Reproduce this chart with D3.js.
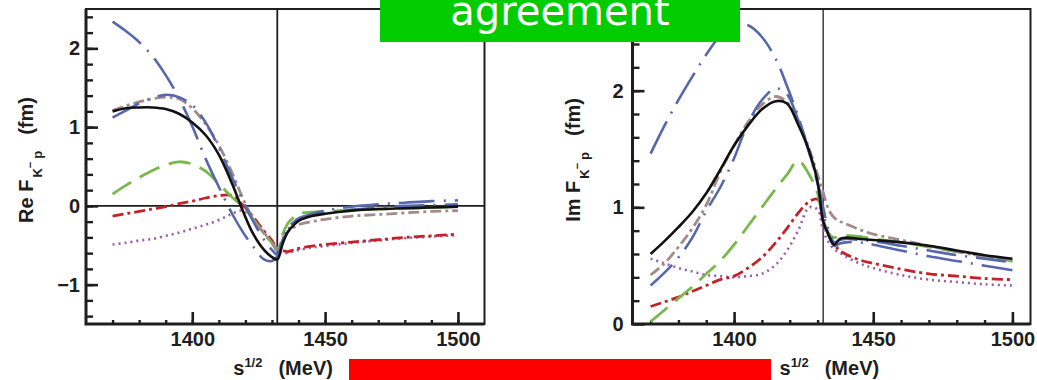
<!DOCTYPE html>
<html>
<head>
<meta charset="utf-8">
<script src="https://cdn.jsdelivr.net/npm/d3@7"></script>
<style>
  body { margin: 0; background: #fff; }
  svg { display: block; }
</style>
</head>
<body>
<svg id="chart" width="1037" height="380"></svg>
<script>
// sqrt(s) grid in MeV, shared by every curve of both panels
const energies = [1370, 1375, 1380, 1385, 1390, 1395, 1400, 1405, 1410, 1415, 1419, 1423, 1427,
  1430, 1432, 1434, 1436, 1438, 1440, 1445, 1450, 1460, 1470, 1480, 1490, 1500];
const threshold = 1432; // K- p threshold (vertical line)

// Re F_K-p (fm)
const reBlack = [1.20, 1.24, 1.25, 1.25, 1.23, 1.17, 1.06, 0.90, 0.65, 0.28, -0.06, -0.36, -0.56,
  -0.65, -0.68, -0.48, -0.33, -0.25, -0.19, -0.13, -0.10, -0.06, -0.04, -0.03, -0.02, -0.01];
const reBrown = [1.21, 1.27, 1.32, 1.36, 1.38, 1.36, 1.24, 1.04, 0.77, 0.42, 0.10, -0.17, -0.35,
  -0.47, -0.56, -0.42, -0.33, -0.28, -0.24, -0.20, -0.17, -0.13, -0.11, -0.09, -0.07, -0.06];
const reBlue1 = [2.34, 2.22, 2.08, 1.90, 1.66, 1.37, 1.01, 0.60, 0.24, -0.10, -0.33, -0.52, -0.68,
  -0.70, -0.64, -0.42, -0.28, -0.21, -0.16, -0.10, -0.06, -0.01, 0.02, 0.04, 0.06, 0.07];
const reBlue2 = [1.12, 1.21, 1.30, 1.37, 1.41, 1.38, 1.28, 1.06, 0.74, 0.36, 0.07, -0.20, -0.43,
  -0.56, -0.62, -0.43, -0.30, -0.23, -0.18, -0.12, -0.09, -0.05, -0.02, 0.00, 0.01, 0.02];
const reGreen = [0.15, 0.26, 0.36, 0.45, 0.52, 0.56, 0.53, 0.44, 0.28, 0.11, -0.01, -0.17, -0.35,
  -0.47, -0.55, -0.36, -0.22, -0.15, -0.10, -0.08, -0.07, -0.05, -0.04, -0.03, -0.02, -0.01];
const reRed = [-0.13, -0.10, -0.07, -0.04, -0.01, 0.03, 0.06, 0.10, 0.13, 0.13, 0.01, -0.14, -0.32,
  -0.44, -0.55, -0.57, -0.58, -0.56, -0.54, -0.51, -0.49, -0.46, -0.43, -0.40, -0.38, -0.36];
const rePurple = [-0.49, -0.47, -0.44, -0.42, -0.38, -0.34, -0.29, -0.24, -0.18, -0.10, -0.06, -0.16, -0.34,
  -0.46, -0.58, -0.60, -0.60, -0.58, -0.56, -0.53, -0.51, -0.47, -0.44, -0.41, -0.39, -0.37];

// Im F_K-p (fm)
const imBlack = [0.60, 0.71, 0.83, 0.96, 1.12, 1.32, 1.53, 1.70, 1.84, 1.91, 1.89, 1.71, 1.48,
  1.22, 0.88, 0.76, 0.68, 0.73, 0.74, 0.73, 0.72, 0.70, 0.67, 0.63, 0.59, 0.56];
const imBrown = [0.42, 0.52, 0.66, 0.82, 1.02, 1.30, 1.53, 1.73, 1.88, 1.95, 1.90, 1.74, 1.50,
  1.28, 1.13, 0.98, 0.91, 0.88, 0.86, 0.81, 0.77, 0.72, 0.67, 0.62, 0.58, 0.54];
const imBlue1 = [1.46, 1.70, 1.92, 2.12, 2.31, 2.47, 2.56, 2.56, 2.46, 2.27, 2.04, 1.78, 1.47,
  1.20, 0.97, 0.76, 0.67, 0.69, 0.70, 0.70, 0.68, 0.63, 0.58, 0.54, 0.50, 0.46];
const imBlue2 = [0.33, 0.44, 0.57, 0.74, 0.97, 1.17, 1.42, 1.72, 1.92, 2.02, 1.97, 1.75, 1.47,
  1.22, 1.00, 0.80, 0.70, 0.72, 0.73, 0.72, 0.71, 0.67, 0.63, 0.59, 0.56, 0.53];
const imGreen = [0.02, 0.12, 0.22, 0.32, 0.43, 0.54, 0.68, 0.84, 1.00, 1.16, 1.28, 1.40, 1.28,
  1.12, 0.90, 0.78, 0.74, 0.76, 0.76, 0.75, 0.73, 0.70, 0.66, 0.62, 0.58, 0.54];
const imRed = [0.15, 0.19, 0.23, 0.28, 0.33, 0.38, 0.41, 0.48, 0.57, 0.70, 0.82, 0.95, 1.05,
  1.07, 0.88, 0.76, 0.68, 0.63, 0.60, 0.55, 0.52, 0.47, 0.43, 0.41, 0.39, 0.38];
const imPurple = [0.56, 0.52, 0.48, 0.45, 0.42, 0.41, 0.40, 0.41, 0.43, 0.51, 0.63, 0.80, 1.00,
  0.98, 0.80, 0.70, 0.64, 0.61, 0.58, 0.52, 0.48, 0.42, 0.38, 0.36, 0.34, 0.33];

// tick labels
const energyTicks = [1400, 1450, 1500];
const reTicks = [-1, 0, 1, 2];
const imTicks = [0, 1, 2];

// line styles, drawn back to front
const styles = [
  { key: "purple", color: "#9a5cab", dash: "2,4", width: 2.6 },
  { key: "red", color: "#c42229", dash: "11,4,3,4", width: 2.8 },
  { key: "green", color: "#7ab84c", dash: "22,10", width: 2.8 },
  { key: "brown", color: "#a38b8b", dash: "11,4,3,4", width: 2.8 },
  { key: "blue2", color: "#5667ab", dash: "30,9,2,9", width: 2.6 },
  { key: "blue1", color: "#5667ab", dash: "36,9,2,9", width: 2.6 },
  { key: "black", color: "#111", dash: null, width: 2.6 },
];

const svg = d3.select("#chart");
const font = "'Liberation Sans', Arial, Helvetica, sans-serif";
const ink = "#1e1e1e";

function styleAxis(ax, width) {
  ax.select(".domain").remove();
  ax.selectAll(".tick line").attr("stroke", ink).attr("stroke-width", width);
  ax.selectAll("text")
    .attr("font-family", font)
    .attr("font-weight", "bold")
    .attr("font-size", 20)
    .attr("fill", ink);
}

function drawPanel(opt) {
  const x = d3.scaleLinear().domain(opt.xDomain).range(opt.xRange);
  const y = d3.scaleLinear().domain(opt.yDomain).range([324, 9]);
  const g = svg.append("g");
  const [x0, x1] = opt.xRange;

  // x ticks (inward): minor every 10 MeV, major labelled
  styleAxis(g.append("g").attr("transform", "translate(0,324)")
    .call(d3.axisBottom(x).tickValues(d3.range(1370, 1501, 10)).tickSizeInner(-4).tickSizeOuter(0).tickFormat("")), 2.4);
  styleAxis(g.append("g").attr("transform", "translate(0,324)")
    .call(d3.axisBottom(x).tickValues(energyTicks).tickSizeInner(-12).tickSizeOuter(0).tickPadding(8).tickFormat(d3.format("d"))), 2.6);

  // y ticks: minor every 0.2, major labelled
  styleAxis(g.append("g").attr("transform", "translate(" + x0 + ",0)")
    .call(d3.axisLeft(y).tickValues(opt.minorY).tickSizeInner(-7).tickSizeOuter(0).tickFormat("")), 2.4);
  styleAxis(g.append("g").attr("transform", "translate(" + x0 + ",0)")
    .call(d3.axisLeft(y).tickValues(opt.yTicks).tickSizeInner(-12).tickSizeOuter(0).tickPadding(opt.yPad).tickFormat(d3.format("d"))), 2.6);

  // reference lines
  if (opt.zeroLine) {
    g.append("line").attr("x1", x0).attr("x2", x1).attr("y1", y(0)).attr("y2", y(0))
      .attr("stroke", ink).attr("stroke-width", 1.8);
  }
  g.append("line").attr("x1", x(threshold)).attr("x2", x(threshold)).attr("y1", 324).attr("y2", 9)
    .attr("stroke", ink).attr("stroke-width", opt.vWidth);

  // curves
  const line = d3.line()
    .x((d) => x(d[0]))
    .y((d) => y(d[1]))
    .curve(d3.curveCatmullRom.alpha(0.5));
  styles.forEach((s) => {
    const pts = energies.map((e, i) => [e, opt.series[s.key][i]]);
    g.append("path")
      .attr("d", line(pts))
      .attr("fill", "none")
      .attr("stroke", s.color)
      .attr("stroke-width", s.width)
      .attr("stroke-dasharray", s.dash)
      .attr("stroke-linejoin", "round");
  });

  // frame
  g.append("rect").attr("x", x0).attr("y", 9).attr("width", x1 - x0).attr("height", 315)
    .attr("fill", "none").attr("stroke", ink).attr("stroke-width", 2);
  g.append("path").attr("d", "M" + x0 + ",9V324H" + x1)
    .attr("fill", "none").attr("stroke", ink).attr("stroke-width", 3);

  // x title: s^1/2 (MeV)
  const xt = svg.append("text")
    .attr("x", (x0 + x1) / 2 - 52).attr("y", 375)
    .attr("font-family", font).attr("font-weight", "bold").attr("font-size", 20).attr("fill", ink);
  xt.append("tspan").text("s");
  xt.append("tspan").attr("font-size", 13).attr("dy", -8).text("1/2");
  xt.append("tspan").attr("dy", 8).attr("dx", 16).text("(MeV)");

  // y title: Re/Im F_{K- p} (fm)
  const yt = svg.append("text")
    .attr("transform", "translate(" + opt.titleX + ",160) rotate(-90)")
    .attr("text-anchor", "middle")
    .attr("font-family", font).attr("font-weight", "bold").attr("font-size", 20).attr("fill", ink);
  yt.append("tspan").text(opt.part + " F");
  yt.append("tspan").attr("font-size", 13).attr("dy", 9).attr("dx", 2).text("K");
  yt.append("tspan").attr("font-size", 11).attr("dy", -8).text("−");
  yt.append("tspan").attr("font-size", 13).attr("dy", 8).attr("dx", 3).text("p");
  yt.append("tspan").attr("dy", -9).attr("dx", 16).text("(fm)");
}

drawPanel({
  part: "Re",
  xDomain: [1360, 1510],
  xRange: [86, 484.5],
  yDomain: [-1.5, 2.5],
  yTicks: reTicks,
  minorY: d3.range(-7, 13).map((d) => d / 5),
  yPad: 6,
  zeroLine: true,
  vWidth: 1.8,
  titleX: 33,
  series: { black: reBlack, brown: reBrown, blue1: reBlue1, blue2: reBlue2, green: reGreen, red: reRed, purple: rePurple },
});

drawPanel({
  part: "Im",
  xDomain: [1363.5, 1506.5],
  xRange: [632.5, 1030.5],
  yDomain: [0, 2.7],
  yTicks: imTicks,
  minorY: d3.range(1, 14).map((d) => d / 5),
  yPad: 9,
  zeroLine: false,
  vWidth: 1.3,
  titleX: 580,
  series: { black: imBlack, brown: imBrown, blue1: imBlue1, blue2: imBlue2, green: imGreen, red: imRed, purple: imPurple },
});

// green banner at top
svg.append("rect").attr("x", 380).attr("y", 0).attr("width", 360).attr("height", 42).attr("fill", "#00cc00");
svg.append("text")
  .attr("x", 560).attr("y", 25)
  .attr("text-anchor", "middle")
  .attr("font-family", "'DejaVu Sans', sans-serif")
  .attr("font-size", 40)
  .attr("fill", "#fff")
  .text("agreement");

// red bar at the bottom
svg.append("rect").attr("x", 349).attr("y", 359).attr("width", 422).attr("height", 21).attr("fill", "#ff0000");
</script>
</body>
</html>
